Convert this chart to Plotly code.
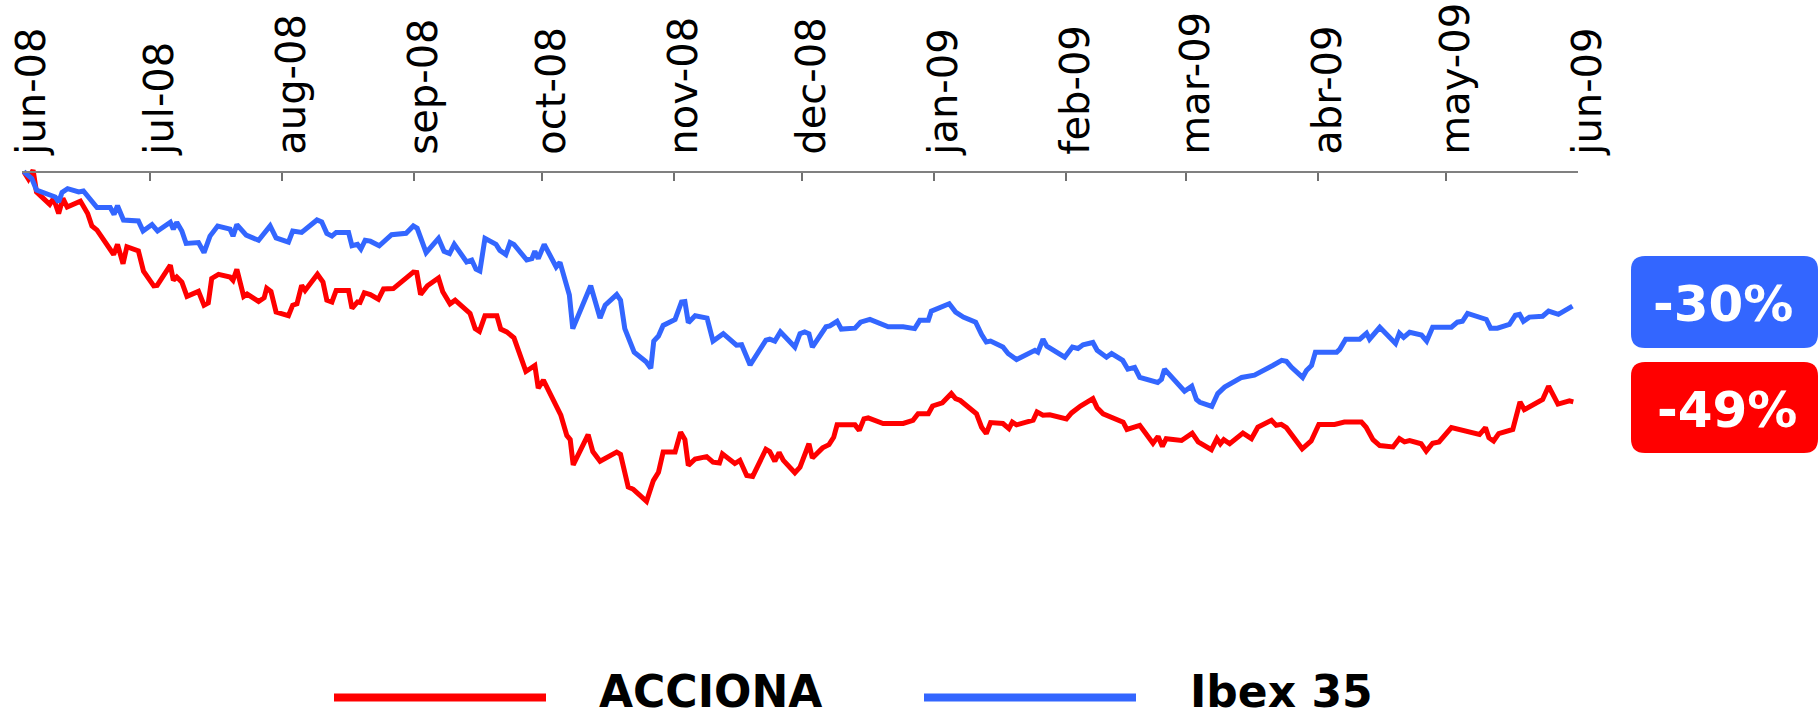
import pandas as pd
import plotly.graph_objects as go

# ---------------- data ----------------
start_date = "2008-06-01"

series_names = ["ACCIONA", "Ibex 35"]
series_colors = ["#FF0000", "#3366FF"]
final_labels = ["-49%", "-30%"]

# days since 2008-06-01, and % change since start
acciona_days = [0.4, 1.5, 2.6, 3.4, 6.5, 7.4, 8.6, 9.6, 10.6, 13.7, 15.4, 16.4, 17.6, 20.3, 21.5, 22.4, 23.7, 24.6,
                27.3, 28.5, 30.9, 31.7, 34.8, 35.5, 36.3, 37.5, 38.7, 41.4, 42.7, 43.7, 44.5, 46.1, 48.8, 49.5, 50.4,
                52.0, 52.8, 55.5, 56.8, 57.4, 58.4, 59.6, 62.5, 63.5, 64.5, 65.6, 66.4, 69.3, 70.6, 71.5, 72.7, 73.7,
                76.6, 77.4, 78.7, 79.3, 80.3,
                81.7, 83.6, 84.8, 87.1, 91.8, 92.6, 93.5, 95.1, 97.7, 98.7, 100.4, 101.6, 105.1, 106.3, 107.3, 108.6,
                111.4, 112.3, 113.7, 115.4, 118.2, 120.3, 121.1, 122.3, 126.4, 127.8, 128.6, 129.3, 132.8, 133.9, 135.6,
                139.5, 140.4, 141.2, 142.2, 143.4, 146.5, 148.1, 149.3, 150.4, 153.2, 154.5, 155.5, 156.3, 157.9,
                160.6, 162.1, 163.6, 164.3, 167.2, 168.4, 170.0, 171.4,
                174.5, 175.4, 176.6, 177.6, 178.6, 181.3, 182.5, 183.2, 184.6, 185.4, 187.8, 189.3, 190.4, 191.2,
                195.4, 196.4, 197.5, 198.5, 202.0, 206.7, 209.0, 210.2, 212.6, 213.6, 215.9, 218.0, 219.0, 220.1,
                223.9, 225.1, 226.2, 227.2, 230.1, 231.5, 232.3, 233.3, 237.2, 238.1, 239.5, 241.1, 245.0, 246.2,
                248.3, 251.2, 252.2, 253.6,
                255.5, 258.3, 259.2, 262.2, 265.3, 266.5, 267.5, 268.4, 272.0, 274.5, 275.9, 279.0, 280.3, 281.1,
                281.9, 283.3, 286.4, 288.4, 289.9, 293.1, 294.2, 295.4, 296.6, 300.3, 302.4, 304.2, 307.9, 310.2,
                314.2, 315.3, 316.9, 318.5, 321.6, 323.1, 324.3, 325.5, 328.2, 329.4, 330.9, 332.4, 335.3, 337.6,
                341.9, 343.3, 344.1, 345.2, 346.4, 349.7, 351.4, 352.4, 356.7, 358.1, 360.3, 363.0, 363.9]
acciona_pct = [0.0, -1.6, 0.3, -4.4, -7.1, -5.8, -9.1, -5.8, -7.7, -6.4, -9.1, -11.8, -12.7, -16.3, -18.0, -15.8,
               -20.0, -16.3, -17.2, -21.6, -24.8, -24.7, -20.3, -23.6, -22.9, -24.0, -27.1, -26.0, -29.0, -28.5,
               -23.2, -22.3, -22.9, -23.6, -21.2, -27.1, -26.6, -28.2, -27.4, -25.3, -26.0, -30.5, -31.3, -29.0,
               -28.7, -24.7, -25.8, -22.3, -24.0, -27.9, -28.3, -25.8, -25.8, -29.7, -28.3, -28.4, -26.3,
               -26.7, -27.7, -25.5, -25.4, -21.8, -21.9, -26.7, -24.8, -23.1, -26.1, -28.7, -27.9, -30.8, -34.1,
               -34.7, -31.3, -31.3, -34.2, -34.8, -36.1, -43.4, -42.1, -47.0, -45.3, -52.9, -57.3, -58.2, -63.7,
               -57.1, -60.8, -62.9,
               -60.9, -61.4, -64.5, -68.5, -69.0, -71.6, -67.1, -65.3, -60.9, -60.9, -56.6, -58.2, -63.8, -62.4,
               -61.9, -63.1, -63.3, -61.3, -63.4, -62.7, -66.0, -66.2,
               -60.3, -60.8, -62.9, -61.0, -62.7, -65.4, -64.2, -62.7, -59.1, -62.2, -60.0, -59.3, -57.7, -55.0,
               -55.0, -56.2, -53.7, -53.5, -54.7, -54.7, -54.0, -52.6, -52.6, -50.9, -50.2, -48.2, -49.3, -49.7,
               -52.6, -55.5, -56.9, -54.5, -54.7, -55.8, -54.4, -55.0, -54.0, -52.2, -52.9, -52.8, -53.7, -52.4,
               -50.9, -49.3, -51.3, -52.6,
               -53.4, -54.4, -56.0, -55.1, -59.0, -57.5, -59.7, -58.0, -58.4, -56.8, -58.7, -60.4, -58.0, -59.1,
               -58.2, -59.1, -56.8, -58.0, -55.5, -54.0, -55.1, -54.9, -55.6, -60.2, -58.5, -54.9, -54.9, -54.4,
               -54.4, -55.5, -58.2, -59.5, -59.8, -58.0, -58.7, -58.4, -59.1, -60.7, -59.0, -58.7, -55.6, -56.2,
               -57.1, -55.6, -57.8, -58.5, -56.9, -56.0, -50.0, -51.7, -49.5, -46.6, -50.5, -49.8, -50.0]

ibex_days = [0.4, 2.3, 3.4, 6.6, 7.8, 8.6, 9.4, 10.7, 13.3, 14.4, 16.0, 17.6, 20.7, 21.6, 22.4, 23.8, 27.3, 28.4,
             30.5, 31.8, 34.8, 35.5, 36.3, 37.5, 38.5, 41.4, 42.7, 44.1, 45.9, 48.8, 49.5, 50.4, 52.6, 55.5, 58.2,
             59.6, 62.5, 63.5, 65.6, 69.2, 70.3, 71.5, 72.7, 73.7, 76.6, 77.4, 78.7, 79.5, 80.5, 81.7, 83.8, 86.7,
             90.1, 91.8, 92.7, 93.8, 94.8, 97.7, 99.0, 100.3, 101.4, 104.3, 105.5, 106.5, 107.4, 108.6, 111.2,
             112.1, 113.5, 114.5, 115.4, 118.4, 119.6, 120.3, 121.1, 122.5, 124.3, 125.3, 126.2, 128.4, 129.2,
             133.4, 135.6, 136.8, 139.5, 140.4, 141.4, 143.6, 146.4, 147.5, 148.2, 149.3, 150.4, 153.2, 154.7,
             155.5, 156.3, 157.9, 160.7, 162.1, 164.5, 167.6, 168.8, 170.8, 174.5, 175.4, 176.6, 177.9, 181.3,
             182.5, 183.6, 184.6, 185.4, 188.6, 189.5, 191.2, 192.2, 195.4, 196.7, 198.9, 203.2, 206.7, 209.4,
             210.6, 212.6, 213.3, 217.5, 219.0, 220.8, 223.7, 225.1, 226.2, 227.2, 230.1, 231.3, 233.3, 237.6,
             238.3, 239.5, 240.4, 244.6, 246.4, 247.7, 248.9, 251.2, 252.2, 254.4, 255.6, 258.2, 259.4, 261.0,
             262.2, 266.4, 267.3, 268.0, 269.7, 272.7, 274.4, 275.5, 276.3, 279.1, 280.5, 282.1, 286.1, 289.1,
             293.4, 295.5, 296.6, 297.8, 300.4, 301.3, 302.5, 303.4, 308.4, 309.1, 310.5, 313.8, 315.4, 316.1,
             318.5, 322.2, 323.1, 324.1, 325.5, 328.3, 329.5, 330.9, 335.3, 336.7, 337.9, 339.1, 343.5, 344.5,
             346.1, 348.9, 350.3, 351.3, 352.2, 353.6, 356.7, 358.1, 360.4, 363.7]
ibex_pct = [0.0, -1.5, -4.0, -5.0, -5.5, -6.6, -4.5, -3.7, -4.4, -4.2, -6.2, -7.8, -7.8, -9.3, -7.4, -10.5, -10.7,
            -12.9, -11.5, -12.9, -11.0, -12.5, -11.0, -12.9, -15.6, -15.4, -17.6, -14.0, -11.8, -12.5, -14.0, -11.5,
            -13.8, -14.9, -11.8, -14.4, -15.3, -12.9, -13.2, -10.5, -10.9, -13.4, -14.0, -13.2, -13.2, -16.1,
            -15.8, -16.8, -14.9, -15.1, -16.1, -13.7, -13.4, -11.8, -12.3, -15.4, -17.6, -14.5, -17.3, -17.8,
            -15.8, -19.6, -19.2, -21.2, -21.6, -14.5, -15.8, -17.1, -18.0, -15.4, -15.8, -19.2, -18.9, -17.3,
            -18.9, -15.8, -18.9, -20.7, -19.7, -26.8, -34.1, -24.8, -31.8, -29.0, -26.7, -27.9, -34.1, -39.2,
            -41.3, -42.7, -36.8, -35.7, -33.4, -32.1, -28.3, -28.2, -32.8, -31.3, -31.8, -36.8, -35.2, -37.7,
            -37.6, -42.0, -36.6, -36.4, -36.8, -34.8, -38.1, -35.2, -34.8, -35.2, -38.1, -33.7, -33.5, -32.5,
            -34.2, -34.0, -32.7, -32.1, -33.7, -33.7, -34.1, -32.3, -32.3, -30.3, -28.7, -30.5, -31.6, -32.7,
            -35.4, -37.0, -36.8, -38.1, -39.5, -40.8, -38.8, -39.2, -36.4, -37.9, -40.3, -38.1, -38.4, -37.6,
            -37.1, -38.8, -40.3, -39.5, -41.0, -42.9, -42.5, -44.7, -45.8, -45.1, -42.9, -44.7, -47.7, -46.6,
            -49.5, -50.1, -51.0, -48.2, -46.8, -44.7, -44.2, -42.1, -41.0, -41.2, -42.5, -44.7, -43.2, -42.1,
            -39.2, -39.2, -38.6, -36.4, -36.4, -35.1, -36.4, -33.8, -37.3, -35.1, -36.0, -34.9, -35.5, -36.8,
            -33.8, -33.8, -32.7, -32.5, -30.8, -32.1, -34.0, -34.0, -33.2, -31.2, -31.0, -32.5, -31.6, -31.4,
            -30.3, -31.0, -29.2]

tick_dates = ["2008-06-01", "2008-07-01", "2008-08-01", "2008-09-01", "2008-10-01", "2008-11-01", "2008-12-01",
              "2009-01-01", "2009-02-01", "2009-03-01", "2009-04-01", "2009-05-01", "2009-06-01"]
tick_labels = ["jun-08", "jul-08", "aug-08", "sep-08", "oct-08", "nov-08", "dec-08",
               "jan-09", "feb-09", "mar-09", "abr-09", "may-09", "jun-09"]

# ---------------- layout constants ----------------
W, H = 1820, 717
ML, MR, MT, MB = 22, 242, 150, 154
Y_MIN, Y_MAX = -85.0, 4.7
PW = W - ML - MR
PH = H - MT - MB


def px_x(px):
    return (px - ML) / PW


def px_y(py):
    return 1 - (py - MT) / PH


t0 = pd.Timestamp(start_date)
acc_x = t0 + pd.to_timedelta(acciona_days, unit="D")
ibex_x = t0 + pd.to_timedelta(ibex_days, unit="D")

fig = go.Figure()
fig.add_trace(go.Scatter(x=acc_x, y=acciona_pct, mode="lines", name=series_names[0],
                         line=dict(color=series_colors[0], width=5), showlegend=False))
fig.add_trace(go.Scatter(x=ibex_x, y=ibex_pct, mode="lines", name=series_names[1],
                         line=dict(color=series_colors[1], width=5), showlegend=False))

axis_pos = (0 - Y_MIN) / (Y_MAX - Y_MIN)

fig.update_layout(
    width=W, height=H,
    margin=dict(l=ML, r=MR, t=MT, b=MB, pad=0, autoexpand=False),
    paper_bgcolor="white", plot_bgcolor="white",
    showlegend=False,
    xaxis=dict(
        type="date",
        range=[tick_dates[0], tick_dates[-1]],
        side="top", anchor="free", position=axis_pos,
        tickmode="array", tickvals=tick_dates, ticktext=tick_labels,
        tickangle=-90,
        tickfont=dict(family="DejaVu Sans", size=40, color="black"),
        ticks="inside", ticklen=8, tickwidth=1.5, tickcolor="#707070",
        showline=True, linecolor="#808080", linewidth=2,
        showgrid=False, zeroline=False, automargin=False,
        ticklabelstandoff=8, ticklabelshift=10,
    ),
    yaxis=dict(range=[Y_MIN, Y_MAX], visible=False, fixedrange=True),
)


def rounded_rect(x0, y0, x1, y1, r):
    l, rr = px_x(x0), px_x(x1)
    top, bot = px_y(y0), px_y(y1)
    rx, ry = r / PW, r / PH
    return (f"M {l+rx},{top} L {rr-rx},{top} Q {rr},{top} {rr},{top-ry} "
            f"L {rr},{bot+ry} Q {rr},{bot} {rr-rx},{bot} L {l+rx},{bot} "
            f"Q {l},{bot} {l},{bot+ry} L {l},{top-ry} Q {l},{top} {l+rx},{top} Z")


shapes = []
annotations = []

# badges with final values
badge_boxes = {1: (1631, 256, 1818, 348), 0: (1631, 362, 1818, 453)}
badge_text_pos = {1: (1723, 304), 0: (1727, 410)}
for i in (1, 0):
    x0, y0, x1, y1 = badge_boxes[i]
    shapes.append(dict(type="path", xref="paper", yref="paper", path=rounded_rect(x0, y0, x1, y1, 14),
                       fillcolor=series_colors[i], line=dict(width=0), layer="above"))
    tx, ty = badge_text_pos[i]
    annotations.append(dict(xref="paper", yref="paper", x=px_x(tx), y=px_y(ty), xanchor="center",
                            yanchor="middle", showarrow=False, text=f"<b>{final_labels[i]}</b>",
                            font=dict(family="DejaVu Sans", size=50, color="white")))

# custom legend
legend_lines = {0: (334, 546), 1: (924, 1136)}
legend_text_x = {0: 597, 1: 1188}
for i in (0, 1):
    a, b = legend_lines[i]
    shapes.append(dict(type="line", xref="paper", yref="paper", x0=px_x(a), x1=px_x(b),
                       y0=px_y(697.5), y1=px_y(697.5), line=dict(color=series_colors[i], width=8)))
    annotations.append(dict(xref="paper", yref="paper", x=px_x(legend_text_x[i]), y=px_y(691),
                            xanchor="left", yanchor="middle", showarrow=False,
                            text=f"<b>{series_names[i]}</b>",
                            font=dict(family="DejaVu Sans", size=44, color="black")))

fig.update_layout(shapes=shapes, annotations=annotations)

fig.write_html(
    "out.html",
    config={"displayModeBar": False},
    post_script="document.body.style.margin='0';document.body.style.overflow='hidden';",
)
